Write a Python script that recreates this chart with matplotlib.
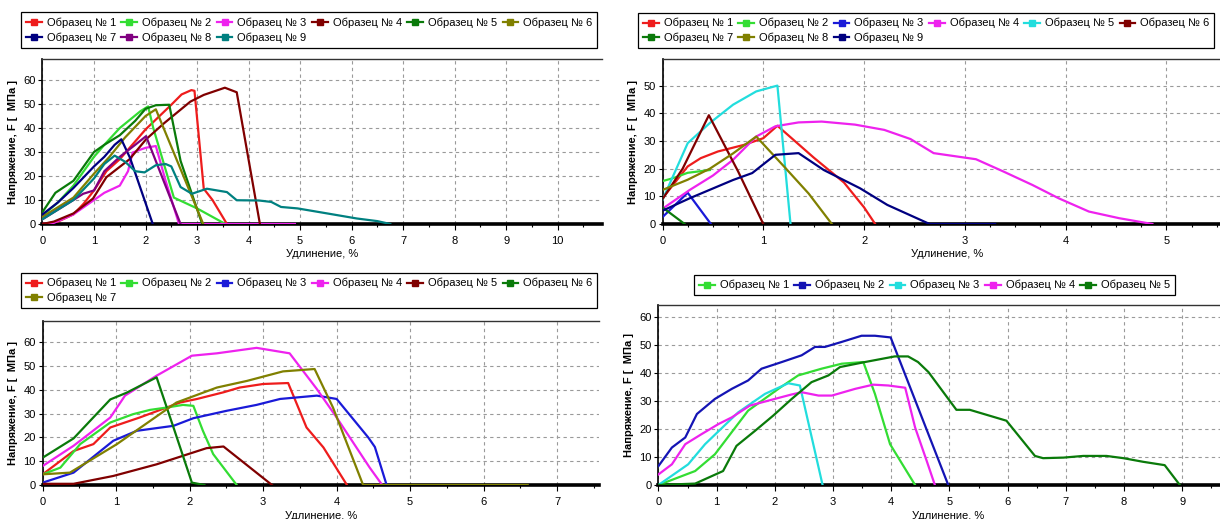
import matplotlib
matplotlib.use('Agg')
import matplotlib.pyplot as plt
from matplotlib.lines import Line2D
from matplotlib.ticker import MultipleLocator

plt.rcParams['font.family'] = ['Liberation Sans', 'DejaVu Sans']

# ---------------- colours ----------------
RED = '#ee1c1c'
LIME = '#33dd33'
MAGENTA = '#ee22ee'
MAROON = '#800000'
GREEN = '#0a7a0a'
OLIVE = '#808000'
NAVY = '#000080'
PURPLE = '#800080'
TEAL = '#008080'
BLUE = '#1a1ad8'
DBLUE = '#1414b4'
CYAN = '#22dddd'

XLABEL = 'Удлинение, %'
YLABEL = 'Напряжение, F [  МПа ]'

# ---------------- top-left data ----------------
tl_names = ['Образец № 1', 'Образец № 2', 'Образец № 3', 'Образец № 4', 'Образец № 5',
            'Образец № 6', 'Образец № 7', 'Образец № 8', 'Образец № 9']
tl1_x = [0, 0.3, 0.6, 0.8, 1.0, 1.24, 1.5, 2.0, 2.5, 2.7, 2.89, 2.95, 3.13, 3.3, 3.58]
tl1_y = [0, 1, 4, 8.5, 14, 22, 27, 39.4, 49.7, 54, 55.8, 55.5, 14.7, 10, 0]
tl2_x = [0, 0.3, 0.6, 1.0, 1.2, 1.5, 1.9, 2.05, 2.15, 2.55, 3.0, 3.55]
tl2_y = [3.5, 9, 16, 28, 33, 40, 47, 49, 40, 11, 6.5, 0]
tl3_x = [0, 0.2, 0.6, 1.0, 1.2, 1.5, 1.66, 1.75, 1.9, 2.01, 2.2, 2.39, 2.65, 4.9]
tl3_y = [0, 0.3, 4, 10, 13, 16, 22, 29.8, 31, 31.8, 32.5, 18, 0, 0]
tl4_x = [0, 0.22, 0.6, 0.98, 1.24, 1.69, 2.01, 2.36, 2.87, 3.13, 3.54, 3.77, 4.22]
tl4_y = [0, 1, 4.4, 10.6, 19.5, 27, 35.3, 42, 51, 53.8, 56.8, 54.9, 0]
tl5_x = [0, 0.25, 0.6, 1.0, 1.2, 1.5, 1.8, 2.0, 2.2, 2.46, 2.68, 3.1]
tl5_y = [5, 13, 18, 30, 33, 37, 43, 48, 49.5, 49.7, 26.3, 0]
tl6_x = [0, 0.3, 0.6, 1.0, 1.3, 1.6, 2.0, 2.2, 3.12]
tl6_y = [3, 7, 11, 21, 28, 36, 45, 47.8, 0]
tl7_x = [0, 0.3, 0.6, 1.0, 1.2, 1.4, 1.53, 1.7, 2.14]
tl7_y = [4, 9, 15, 24, 28, 33, 35.3, 27.5, 0]
tl8_x = [0, 0.3, 0.6, 0.79, 1.0, 1.2, 1.5, 1.8, 2.01, 2.68]
tl8_y = [2, 6, 10, 12.6, 14, 22, 28, 33, 36.6, 0]
tl9_x = [0, 0.3, 0.6, 1.0, 1.2, 1.4, 1.6, 1.8, 1.98, 2.2, 2.39, 2.5, 2.68, 2.9, 3.19,
         3.58, 3.77, 4.2, 4.44, 4.63, 4.95, 5.5, 6.1, 6.5, 6.75]
tl9_y = [2, 6, 10, 19, 25, 28.5, 26, 22, 21.5, 24.5, 25, 24, 15.4, 12.6, 14.7,
         13.3, 9.9, 9.8, 9.2, 7.1, 6.5, 4.5, 2.3, 1.2, 0]

# ---------------- top-right data ----------------
tr_names = ['Образец № 1', 'Образец № 2', 'Образец № 3', 'Образец № 4', 'Образец № 5',
            'Образец № 6', 'Образец № 7', 'Образец № 8', 'Образец № 9']
tr1_x = [0, 0.25, 0.38, 0.55, 0.81, 1.0, 1.14, 1.5, 1.8, 2.0, 2.11]
tr1_y = [9.3, 20.8, 23.8, 26.2, 28.6, 31, 35.5, 24, 15, 6, 0]
tr2_x = [0, 0.1, 0.25, 0.47]
tr2_y = [15.5, 16.5, 18.5, 19.5]
tr3_x = [0, 0.25, 0.48]
tr3_y = [2.5, 11.3, 0]
tr4_x = [0, 0.27, 0.5, 0.7, 0.93, 1.12, 1.35, 1.58, 1.91, 2.2, 2.46, 2.69, 3.11, 3.38,
         3.67, 3.93, 4.23, 4.53, 4.86]
tr4_y = [5.5, 12.3, 17.5, 23.2, 31.6, 35.3, 36.7, 37, 35.9, 34, 30.7, 25.6, 23.4, 19,
         14.1, 9.3, 4.5, 2.1, 0]
tr5_x = [0, 0.25, 0.47, 0.7, 0.93, 1.14, 1.27]
tr5_y = [8.7, 29.2, 36.5, 43.1, 47.9, 50, 0]
tr6_x = [0, 0.2, 0.46, 0.75, 1.0]
tr6_y = [9, 20, 39.3, 19, 0]
tr7_x = [0, 0.22]
tr7_y = [6, 0]
tr8_x = [0, 0.25, 0.47, 0.7, 0.93, 1.2, 1.45, 1.68]
tr8_y = [12.3, 16, 20, 25.5, 31.6, 21, 11, 0]
tr9_x = [0, 0.27, 0.7, 0.89, 1.12, 1.35, 1.6, 1.96, 2.23, 2.65, 3.3]
tr9_y = [4.8, 9.3, 15.9, 18.4, 25, 25.6, 19.5, 12.9, 6.9, 0, 0]

# ---------------- bottom-left data ----------------
bl_names = ['Образец № 1', 'Образец № 2', 'Образец № 3', 'Образец № 4', 'Образец № 5',
            'Образец № 6', 'Образец № 7']
bl1_x = [0, 0.42, 0.69, 0.92, 1.32, 1.87, 2.1, 2.46, 2.68, 3.0, 3.34, 3.59, 3.82, 4.14]
bl1_y = [4.5, 14.3, 17.2, 24.2, 28.4, 34.7, 36.2, 39, 41, 42.5, 42.9, 24.2, 15.8, 0]
bl2_x = [0, 0.24, 0.51, 0.92, 1.23, 1.46, 1.69, 1.91, 2.05, 2.18, 2.32, 2.64]
bl2_y = [4.5, 7.3, 17.2, 26.3, 29.8, 31.6, 32.6, 33.7, 33.3, 22.8, 13, 0]
bl3_x = [0, 0.42, 0.96, 1.28, 1.78, 2.05, 2.5, 2.91, 3.23, 3.73, 4.0, 4.43, 4.52, 4.68]
bl3_y = [1, 5.2, 18.6, 22.8, 24.9, 28.1, 31.2, 33.7, 36.2, 37.6, 36.2, 20, 16, 0]
bl4_x = [0, 0.42, 0.92, 1.12, 1.55, 2.03, 2.37, 2.91, 3.36, 3.73, 4.0, 4.45, 4.62]
bl4_y = [8, 16.5, 28.4, 37.6, 46, 54.4, 55.4, 57.7, 55.4, 40.4, 28.4, 7.3, 0]
bl5_x = [0, 0.42, 0.96, 1.55, 2.23, 2.46, 3.12]
bl5_y = [0.5, 0.5, 3.8, 8.7, 15.5, 16.2, 0]
bl6_x = [0, 0.42, 0.92, 1.14, 1.55, 1.78, 2.03, 2.2]
bl6_y = [11.5, 19.6, 36, 38.8, 45.3, 24.2, 1, 0]
bl7_x = [0, 0.37, 1.01, 1.82, 2.37, 2.78, 3.27, 3.7, 3.95, 4.36, 6.6]
bl7_y = [4.5, 5.2, 17.2, 34.7, 41, 43.8, 47.8, 48.8, 32.6, 0, 0]

# ---------------- bottom-right data ----------------
br_names = ['Образец № 1', 'Образец № 2', 'Образец № 3', 'Образец № 4', 'Образец № 5']
br1_x = [0, 0.63, 0.97, 1.54, 2.06, 2.4, 2.8, 3.15, 3.52, 3.72, 3.98, 4.41]
br1_y = [0, 5, 11, 26.6, 34.4, 39.2, 41.6, 43.4, 44, 32.6, 14.6, 0]
br2_x = [0, 0.23, 0.46, 0.66, 0.97, 1.26, 1.54, 1.77, 2.12, 2.46, 2.69, 2.86, 3.15,
         3.49, 3.72, 3.99, 4.98]
br2_y = [6.8, 13.4, 17, 25.4, 30.8, 34.4, 37.4, 41.6, 44, 46.4, 49.4, 49.4, 51.2,
         53.4, 53.4, 52.8, 0]
br3_x = [0, 0.51, 0.8, 1.37, 1.83, 2.23, 2.43, 2.82]
br3_y = [0, 7.4, 14.6, 26, 32.6, 36.4, 35.6, 0]
br4_x = [0, 0.23, 0.46, 0.74, 1.03, 1.26, 1.57, 1.89, 2.29, 2.46, 2.75, 2.98, 3.38,
         3.69, 3.95, 4.24, 4.41, 4.61, 4.75]
br4_y = [3.8, 7.4, 14.6, 18.2, 21.8, 24.2, 28.4, 30.2, 32.4, 33.2, 32, 32, 34.4,
         35.9, 35.6, 34.8, 20.6, 8.6, 0]
br5_x = [0, 0.63, 1.11, 1.34, 1.66, 1.97, 2.29, 2.63, 2.92, 3.12, 3.55, 4.06, 4.29,
         4.46, 4.64, 5.12, 5.35, 5.98, 6.47, 6.61, 6.96, 7.3, 7.7, 7.99, 8.33, 8.7, 8.96]
br5_y = [0, 0.5, 5, 14, 19.4, 24.8, 30.8, 36.8, 39.2, 42.2, 44, 46, 46,
         44, 40.4, 26.9, 26.9, 23, 10.4, 9.6, 9.8, 10.4, 10.4, 9.6, 8.3, 7.1, 0]

# ---------------- figure ----------------
W, H = 1220, 519
fig = plt.figure(figsize=(W / 100, H / 100), dpi=100)
fig.patch.set_facecolor('white')


def px_axes(l, t, r, b):
    return fig.add_axes([l / W, 1 - b / H, (r - l) / W, (b - t) / H])


def reorder(items, ncol):
    n = len(items)
    q, large = divmod(n, ncol)
    rows_per_col = [q + 1] * large + [q] * (ncol - large)
    out = []
    for c in range(ncol):
        for r in range(rows_per_col[c]):
            out.append(items[r * ncol + c])
    return out


def panel(rect, xmax, ymax, ymaxtick, minor, series, names, colors,
          leg_lt, ncol, xlab_top, ylab_right):
    l, t, r, b = rect
    ax = px_axes(l, t, r, b)
    for (x, y), c in zip(series, colors):
        ax.plot(x, y, color=c, lw=1.6, zorder=3)
    ax.set_xlim(0, xmax)
    ax.set_ylim(0, ymax)
    ax.xaxis.set_major_locator(MultipleLocator(1))
    ax.xaxis.set_minor_locator(MultipleLocator(minor))
    ax.set_yticks(list(range(0, ymaxtick + 1, 10)))
    ax.grid(True, which='major', linestyle=(0, (3, 3)), color='#9a9a9a', lw=0.8)
    ax.set_axisbelow(True)
    ax.spines['right'].set_visible(False)
    ax.spines['bottom'].set_linewidth(2.6)
    ax.spines['bottom'].set_color('black')
    ax.spines['left'].set_linewidth(1.2)
    ax.spines['left'].set_color('black')
    ax.spines['top'].set_linewidth(1.0)
    ax.spines['top'].set_color('#333333')
    ax.tick_params(axis='x', which='major', direction='out', length=4, width=0.8,
                   pad=4.5, labelsize=8)
    ax.tick_params(axis='x', which='minor', direction='out', length=2.5, width=0.8)
    ax.tick_params(axis='y', which='major', direction='out', length=3, width=0.8,
                   pad=2, labelsize=8)
    ax.set_xlabel(XLABEL, fontsize=8)
    ax.set_ylabel(YLABEL, fontsize=8, fontweight='bold')
    wpx = r - l
    hpx = b - t
    ax.xaxis.set_label_coords(0.5, -(xlab_top - b) / hpx)
    ax.yaxis.set_label_coords(-(l - ylab_right) / wpx, 0.5)
    handles = [Line2D([], [], color=c, lw=1.6, marker='s', ms=5, mec=c, mfc=c)
               for c in colors]
    order = reorder(list(range(len(names))), ncol)
    leg = ax.legend([handles[i] for i in order], [names[i] for i in order],
                    loc='upper left', bbox_to_anchor=(leg_lt[0] / W, 1 - leg_lt[1] / H),
                    bbox_transform=fig.transFigure, borderaxespad=0, ncol=ncol,
                    fontsize=8, handlelength=1.4, handletextpad=0.45,
                    columnspacing=0.5, labelspacing=0.4, borderpad=0.45,
                    fancybox=False, framealpha=1, edgecolor='black')
    leg.get_frame().set_linewidth(0.9)
    return ax


panel((42.5, 59.4, 602, 224), 10.86, 68.6, 60, 0.5,
      [(tl1_x, tl1_y), (tl2_x, tl2_y), (tl3_x, tl3_y), (tl4_x, tl4_y), (tl5_x, tl5_y),
       (tl6_x, tl6_y), (tl7_x, tl7_y), (tl8_x, tl8_y), (tl9_x, tl9_y)],
      tl_names, [RED, LIME, MAGENTA, MAROON, GREEN, OLIVE, NAVY, PURPLE, TEAL],
      (21, 12.3), 6, 249, 18)

panel((662.5, 59.3, 1232, 224), 5.65, 59.5, 50, 0.25,
      [(tr1_x, tr1_y), (tr2_x, tr2_y), (tr3_x, tr3_y), (tr4_x, tr4_y), (tr5_x, tr5_y),
       (tr6_x, tr6_y), (tr7_x, tr7_y), (tr8_x, tr8_y), (tr9_x, tr9_y)],
      tr_names, [RED, LIME, BLUE, MAGENTA, CYAN, MAROON, GREEN, OLIVE, NAVY],
      (638, 13), 6, 249, 638)

panel((42.7, 321, 599, 485), 7.57, 69, 60, 0.5,
      [(bl1_x, bl1_y), (bl2_x, bl2_y), (bl3_x, bl3_y), (bl4_x, bl4_y), (bl5_x, bl5_y),
       (bl6_x, bl6_y), (bl7_x, bl7_y)],
      bl_names, [RED, LIME, BLUE, MAGENTA, MAROON, GREEN, OLIVE],
      (21, 273), 6, 511, 18)

panel((658.5, 305, 1238, 485), 9.96, 64.4, 60, 0.5,
      [(br1_x, br1_y), (br2_x, br2_y), (br3_x, br3_y), (br4_x, br4_y), (br5_x, br5_y)],
      br_names, [LIME, DBLUE, CYAN, MAGENTA, GREEN],
      (694, 275), 5, 511, 634)

fig.savefig('out.png', dpi=100, facecolor='white')
